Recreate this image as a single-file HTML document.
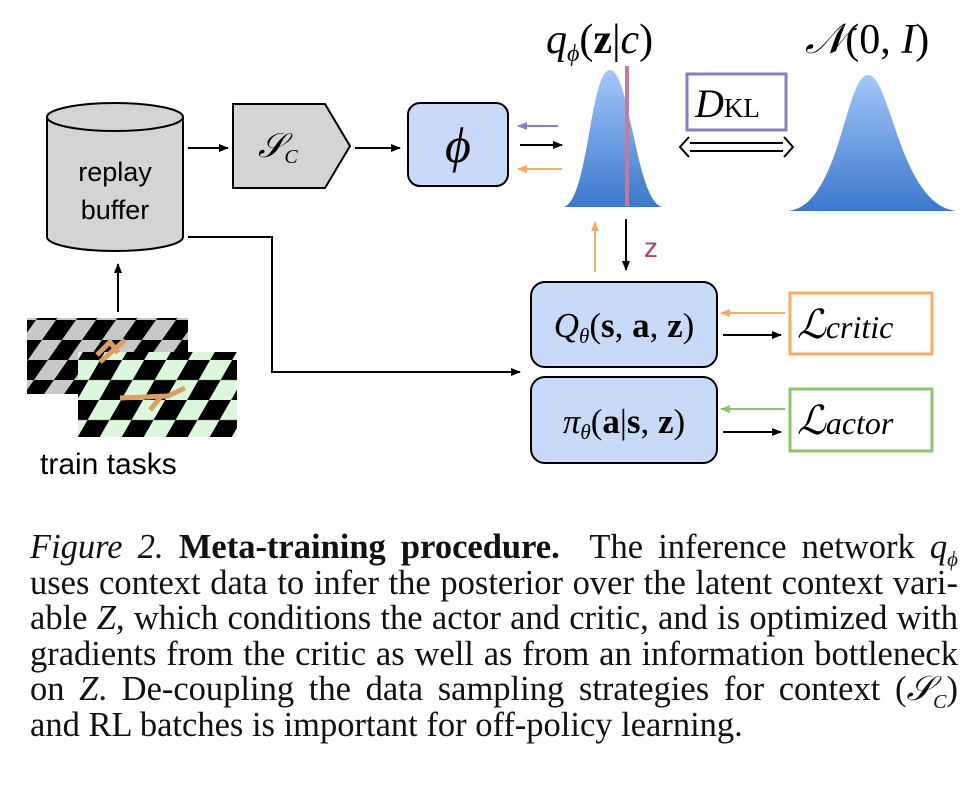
<!DOCTYPE html>
<html><head><meta charset="utf-8"><style>
body{margin:0;background:#fff;width:976px;height:801px;overflow:hidden;position:relative}
.cap{position:absolute;left:30px;top:530px;width:928px;font-family:"Liberation Serif",serif;font-size:34.5px;line-height:35.5px;color:#111}
.cap div{text-align:justify;text-align-last:justify;white-space:nowrap;height:35.5px}
.cap div.last{text-align-last:left}
</style></head><body>
<svg width="976" height="520" style="position:absolute;left:0;top:0" font-family="Liberation Serif,serif">
<defs>
<linearGradient id="g" x1="0" y1="0" x2="0" y2="1"><stop offset="0" stop-color="#a3c7fa"/><stop offset="1" stop-color="#3b78cc"/></linearGradient>
<marker id="ab" markerWidth="10" markerHeight="8" refX="9" refY="4" orient="auto" markerUnits="userSpaceOnUse"><path d="M0,0 L10,4 L0,8 Z" fill="#000"/></marker>
<marker id="ao" markerWidth="10" markerHeight="8" refX="9" refY="4" orient="auto" markerUnits="userSpaceOnUse"><path d="M0,0 L10,4 L0,8 Z" fill="#f6ad62"/></marker>
<marker id="ap" markerWidth="10" markerHeight="8" refX="9" refY="4" orient="auto" markerUnits="userSpaceOnUse"><path d="M0,0 L10,4 L0,8 Z" fill="#8e7cc3"/></marker>
<marker id="ag" markerWidth="10" markerHeight="8" refX="9" refY="4" orient="auto" markerUnits="userSpaceOnUse"><path d="M0,0 L10,4 L0,8 Z" fill="#8fc46f"/></marker>
<pattern id="ck1" width="40" height="40" patternUnits="userSpaceOnUse" patternTransform="skewX(-35)"><rect width="40" height="40" fill="#c8c8c8"/><rect width="20" height="20" fill="#000"/><rect x="20" y="20" width="20" height="20" fill="#000"/></pattern>
<pattern id="ck2" width="44" height="40" patternUnits="userSpaceOnUse" patternTransform="skewX(-30)"><rect width="44" height="40" fill="#dcf7dc"/><rect width="22" height="20" fill="#000"/><rect x="22" y="20" width="22" height="20" fill="#000"/></pattern>
</defs>
<path d="M47,117 L47,237 A68,14 0 0 0 183,237 L183,117" fill="#d4d4d4" stroke="#000" stroke-width="2"/>
<ellipse cx="115" cy="117" rx="68" ry="14" fill="#d4d4d4" stroke="#000" stroke-width="2"/>
<text x="115" y="181" font-family="Liberation Sans,sans-serif" font-size="27" text-anchor="middle">replay</text>
<text x="115" y="219" font-family="Liberation Sans,sans-serif" font-size="27" text-anchor="middle">buffer</text>
<line x1="188" y1="148" x2="228" y2="148" stroke="#000" stroke-width="2" marker-end="url(#ab)"/>
<path d="M233,104 L325,104 L350,146 L325,188 L233,188 Z" fill="#d4d4d4" stroke="#000" stroke-width="2"/>
<text x="258" y="157" font-size="34" font-style="italic">𝒮<tspan font-size="20" dy="6">C</tspan></text>
<line x1="355" y1="148" x2="400" y2="148" stroke="#000" stroke-width="2" marker-end="url(#ab)"/>
<rect x="408" y="103" width="100" height="83" rx="12" fill="#c9daf8" stroke="#000" stroke-width="2"/>
<text x="458" y="162" font-size="50" font-style="italic" text-anchor="middle">ϕ</text>
<line x1="558" y1="126" x2="518" y2="126" stroke="#8e7cc3" stroke-width="2" marker-end="url(#ap)"/>
<line x1="520" y1="145" x2="562" y2="145" stroke="#000" stroke-width="2" marker-end="url(#ab)"/>
<line x1="562" y1="169" x2="518" y2="169" stroke="#f6ad62" stroke-width="2" marker-end="url(#ao)"/>
<path d="M563,207 C588,204 590,70 610,70 C630,70 636,204 663,207 Z" fill="url(#g)"/>
<line x1="627" y1="66" x2="627" y2="206" stroke="#c27ba0" stroke-width="4"/>
<text x="546" y="53" font-size="42" font-style="italic">q<tspan font-size="24" dy="8">ϕ</tspan><tspan dy="-8" font-style="normal">(</tspan><tspan font-weight="bold" font-style="normal">z</tspan><tspan font-style="normal">|</tspan>c<tspan font-style="normal">)</tspan></text>
<path d="M787,211 C840,208 845,75 868,75 C891,75 900,208 958,211 Z" fill="url(#g)"/>
<text x="805" y="53" font-size="42"><tspan font-style="italic">𝒩</tspan>(0, <tspan font-style="italic">I</tspan>)</text>
<rect x="687" y="74" width="99" height="56" fill="#fff" stroke="#8e7cc3" stroke-width="3"/>
<text x="695" y="117" font-size="40" font-style="italic">D<tspan font-style="normal" font-size="27">KL</tspan></text>
<path d="M690,143 L783,143 M690,151 L783,151" stroke="#000" stroke-width="2"/>
<path d="M689,137 L680,147 L689,157 M784,137 L793,147 L784,157" fill="none" stroke="#000" stroke-width="2"/>
<line x1="595" y1="272" x2="595" y2="222" stroke="#f6ad62" stroke-width="2" marker-end="url(#ao)"/>
<line x1="626" y1="219" x2="626" y2="270" stroke="#000" stroke-width="2" marker-end="url(#ab)"/>
<text x="644" y="257" font-family="Liberation Sans,sans-serif" font-size="28" fill="#a8436f">z</text>
<rect x="531" y="282" width="186" height="85" rx="14" fill="#c9daf8" stroke="#000" stroke-width="2"/>
<text x="624" y="337" font-size="35" text-anchor="middle"><tspan font-style="italic">Q</tspan><tspan font-style="italic" font-size="21" dy="6">θ</tspan><tspan dy="-6">(</tspan><tspan font-weight="bold">s</tspan>, <tspan font-weight="bold">a</tspan>, <tspan font-weight="bold">z</tspan>)</text>
<rect x="531" y="377" width="186" height="86" rx="14" fill="#c9daf8" stroke="#000" stroke-width="2"/>
<text x="624" y="433" font-size="35" text-anchor="middle"><tspan font-style="italic">π</tspan><tspan font-style="italic" font-size="21" dy="6">θ</tspan><tspan dy="-6">(</tspan><tspan font-weight="bold">a</tspan>|<tspan font-weight="bold">s</tspan>, <tspan font-weight="bold">z</tspan>)</text>
<line x1="785" y1="313" x2="721" y2="313" stroke="#f6ad62" stroke-width="2" marker-end="url(#ao)"/>
<line x1="723" y1="335" x2="781" y2="335" stroke="#000" stroke-width="2" marker-end="url(#ab)"/>
<line x1="785" y1="409" x2="721" y2="409" stroke="#8fc46f" stroke-width="2" marker-end="url(#ag)"/>
<line x1="723" y1="432" x2="781" y2="432" stroke="#000" stroke-width="2" marker-end="url(#ab)"/>
<rect x="790" y="293" width="142" height="61" fill="#fff" stroke="#f6ad62" stroke-width="3"/>
<text x="797" y="338" font-size="40" font-style="italic">ℒ<tspan font-size="32">critic</tspan></text>
<rect x="790" y="389" width="142" height="62" fill="#fff" stroke="#8fc46f" stroke-width="3"/>
<text x="797" y="434" font-size="40" font-style="italic">ℒ<tspan font-size="32">actor</tspan></text>
<polyline points="188,237 272,237 272,372 520,372" fill="none" stroke="#000" stroke-width="2" marker-end="url(#ab)"/>
<line x1="118" y1="312" x2="118" y2="264" stroke="#000" stroke-width="2" marker-end="url(#ab)"/>
<rect x="27" y="318" width="161" height="76" fill="url(#ck1)"/>
<rect x="78" y="352" width="159" height="85" fill="url(#ck2)"/>
<path d="M97,355 L110,342 L118,353 M125,340 L100,362" stroke="#d9a066" stroke-width="5" fill="none"/>
<path d="M120,398 L168,396 L185,388 M150,410 L160,398" stroke="#d9a066" stroke-width="5" fill="none"/>
<text x="40" y="474" font-family="Liberation Sans,sans-serif" font-size="30">train tasks</text>
</svg>
<div class="cap">
<div><i>Figure 2.</i> <b>Meta-training procedure.</b>&nbsp; The inference network <i>q</i><sub style="font-size:21px;line-height:0"><i>ϕ</i></sub></div>
<div>uses context data to infer the posterior over the latent context vari-</div>
<div>able <i>Z</i>, which conditions the actor and critic, and is optimized with</div>
<div>gradients from the critic as well as from an information bottleneck</div>
<div>on <i>Z</i>. De-coupling the data sampling strategies for context (<i>𝒮</i><sub style="font-size:20px;line-height:0"><i>C</i></sub>)</div>
<div class="last">and RL batches is important for off-policy learning.</div>
</div>
</body></html>
